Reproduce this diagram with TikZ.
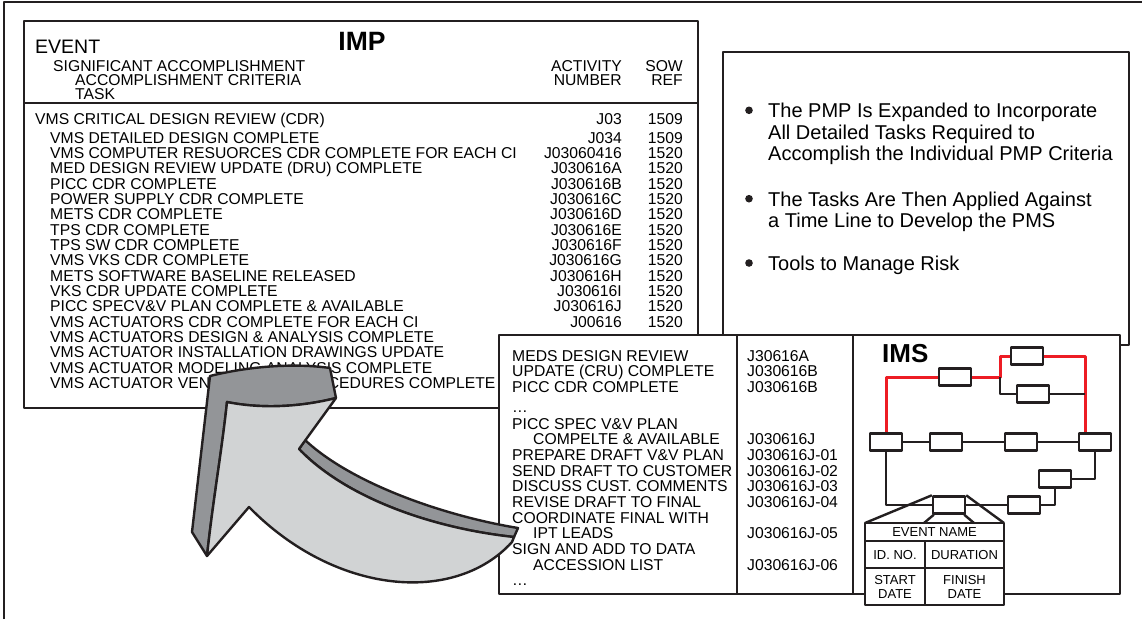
\documentclass[tikz,border=0pt]{standalone}
\usepackage{fontspec}
\setmainfont{Liberation Sans}
\definecolor{ink}{HTML}{231F20}
\definecolor{facegray}{HTML}{D1D3D4}
\definecolor{sidegray}{HTML}{939598}
\definecolor{pathred}{HTML}{ED1C24}

\begin{document}
\begin{tikzpicture}[x=1pt,y=-1pt,line join=round,
  panel/.style={draw=ink,line width=2.5pt,fill=white},
  rulel/.style={draw=ink,line width=2.5pt},
  improw/.style={inner sep=0pt,anchor=base west,font=\fontsize{15.7}{16}\selectfont},
  impnum/.style={inner sep=0pt,anchor=base east,font=\fontsize{15.7}{16}\selectfont},
  bullettext/.style={inner sep=0pt,anchor=base west,font=\fontsize{20}{21}\selectfont},
  heading/.style={inner sep=0pt,font=\bfseries\fontsize{26.5}{27}\selectfont},
  taskbox/.style={draw=ink,line width=2.4pt,fill=white,minimum width=32pt,minimum height=17pt,inner sep=0pt},
  netlink/.style={draw=ink,line width=2.4pt},
  critpath/.style={draw=pathred,line width=3pt},
  eventcell/.style={inner sep=0pt,align=center,font=\fontsize{13}{14.5}\selectfont},
  arrowside/.style={draw=ink,line width=2.4pt,fill=sidegray},
  arrowface/.style={draw=ink,line width=2.4pt,fill=facegray}]
  \useasboundingbox (0,0) rectangle (1142,619);
  \draw[rulel] (4,619) -- (4,2) -- (1142,2);

  % IMP table
  \draw[panel] (24,21) rectangle (698,408);
  \draw[rulel] (24,103) -- (698,103);
  \node[inner sep=0pt,anchor=base west,font=\fontsize{19.5}{20}\selectfont] (event) at (35,53) {EVENT};
  \node[heading,anchor=base] (imp) at (362,50) {IMP};
  \node[improw] (sig) at (53,71) {SIGNIFICANT ACCOMPLISHMENT};
  \node[improw] (acrit) at (75,85) {ACCOMPLISHMENT CRITERIA};
  \node[improw] (task) at (75,99) {TASK};
  \node[impnum] (actA) at (622,71) {ACTIVITY};
  \node[impnum] (actB) at (622,85) {NUMBER};
  \node[impnum] (sowA) at (683,71) {SOW};
  \node[impnum] (sowB) at (683,85) {REF};
  \node[improw] (r1) at (35,124) {VMS CRITICAL DESIGN REVIEW (CDR)};
  \node[impnum] (a1) at (622,124) {J03};
  \node[impnum] (s1) at (683,124) {1509};
  \foreach \t [count=\i from 2] in {VMS DETAILED DESIGN COMPLETE,
      VMS COMPUTER RESUORCES CDR COMPLETE FOR EACH CI,
      MED DESIGN REVIEW UPDATE (DRU) COMPLETE, PICC CDR COMPLETE,
      POWER SUPPLY CDR COMPLETE, METS CDR COMPLETE, TPS CDR COMPLETE,
      TPS SW CDR COMPLETE, VMS VKS CDR COMPLETE, METS SOFTWARE BASELINE RELEASED,
      VKS CDR UPDATE COMPLETE, PICC SPECV\&V PLAN COMPLETE \& AVAILABLE,
      VMS ACTUATORS CDR COMPLETE FOR EACH CI, VMS ACTUATORS DESIGN \& ANALYSIS COMPLETE,
      VMS ACTUATOR INSTALLATION DRAWINGS UPDATE, VMS ACTUATOR MODELING ANALYSIS COMPLETE,
      VMS ACTUATOR VENDOR TEST PROCEDURES COMPLETE}
    \node[improw] (r\i) at (50,{143+15.35*(\i-2)}) {\t};
  \foreach \a/\s [count=\i from 2] in {J034/1509, J03060416/1520, J030616A/1520,
      J030616B/1520, J030616C/1520, J030616D/1520, J030616E/1520, J030616F/1520,
      J030616G/1520, J030616H/1520, J030616I/1520, J030616J/1520, J00616/1520} {
    \node[impnum] (a\i) at (622,{143+15.35*(\i-2)}) {\a};
    \node[impnum] (s\i) at (683,{143+15.35*(\i-2)}) {\s};
  }

  % bullet panel
  \draw[panel] (723,52) rectangle (1129,345);
  \foreach \y in {110.3,198.7,263} \fill[ink] (749,\y) circle (3.8pt);
  \foreach \y/\t [count=\i] in {117.6/The PMP Is Expanded to Incorporate,
      139/All Detailed Tasks Required to, 160.4/Accomplish the Individual PMP Criteria,
      206/The Tasks Are Then Applied Against, 227.6/a Time Line to Develop the PMS,
      270.3/Tools to Manage Risk}
    \node[bullettext] (b\i) at (768,\y) {\t};

  % task detail
  \draw[panel] (499,335) rectangle (853,594);
  \draw[rulel] (737,335) -- (737,594);
  \foreach \y/\x/\t [count=\i] in {361/512/MEDS DESIGN REVIEW, 376.7/512/UPDATE (CRU) COMPLETE,
      392/512/PICC CDR COMPLETE, 412/512/\dots, 429/512/PICC SPEC V\&V PLAN,
      444.7/533/COMPELTE \& AVAILABLE, 460.3/512/PREPARE DRAFT V\&V PLAN,
      476/512/SEND DRAFT TO CUSTOMER, 491.7/512/DISCUSS CUST. COMMENTS,
      507.3/512/REVISE DRAFT TO FINAL, 523/512/COORDINATE FINAL WITH, 538.7/533/IPT LEADS,
      554.3/512/SIGN AND ADD TO DATA, 570/533/ACCESSION LIST, 585/512/\dots}
    \node[improw] (m\i) at (\x,\y) {\t};
  \foreach \y/\t [count=\i] in {361/J30616A, 376.7/J030616B, 392/J030616B, 444.7/J030616J,
      460.3/J030616J-01, 476/J030616J-02, 491.7/J030616J-03, 507.3/J030616J-04,
      538.7/J030616J-05, 570/J030616J-06}
    \node[improw] (n\i) at (747,\y) {\t};

  % IMS network
  \draw[panel] (853,335) rectangle (1120,594);
  \node[heading,anchor=base west,font=\bfseries\fontsize{26}{27}\selectfont] (ims) at (882,362) {IMS};
  \node[taskbox] (t1) at (1027,356) {};
  \node[taskbox] (t2) at (955,377) {};
  \node[taskbox] (t3) at (1033,394) {};
  \node[taskbox] (w1) at (886,442) {};
  \node[taskbox] (w2) at (946,442) {};
  \node[taskbox] (w3) at (1021,442) {};
  \node[taskbox] (w4) at (1095,442) {};
  \node[taskbox] (l1) at (1055,479) {};
  \node[taskbox] (l2) at (1024,505) {};
  \node[taskbox] (ev) at (949,505) {};
  \coordinate (split) at (1000,377);
  \coordinate (rx) at (1085,356);
  \draw[critpath] (w1.north) |- (t2.west);
  \draw[critpath] (t2.east) -- (split) |- (t1.west);
  \draw[critpath] (t1.east) -| ([xshift=-10pt]w4.north);
  \draw[netlink] (split) |- (t3.west);
  \draw[netlink] (t3.east) -- (t3.east -| rx);
  \draw[netlink] (w1) -- (w2) -- (w3) -- (w4);
  \draw[netlink] (w4.south) |- (l1.east);
  \draw[netlink] (l1.south) |- (l2.east);
  \draw[netlink] (l2.west) -- (ev.east);
  \draw[netlink] (w1.south) |- (ev.west);

  % event key
  \draw[netlink] (ev.north west) -- (865,523);
  \draw[netlink] (ev.north east) -- (1004,523);
  \draw[netlink] ([xshift=2pt]ev.south west) -- (924,523);
  \draw[netlink] ([xshift=-2pt]ev.south east) -- (974,523);
  \draw[panel,line width=2.4pt] (865,523) rectangle (1004,605);
  \draw[netlink] (865,541) -- (1004,541);
  \draw[netlink] (865,568) -- (1004,568);
  \draw[netlink] (925,541) -- (925,605);
  \node[eventcell] (ename) at (934.5,532) {EVENT NAME};
  \node[eventcell] (idno) at (895,555) {ID. NO.};
  \node[eventcell] (dur) at (964.5,555) {DURATION};
  \node[eventcell] (sdate) at (895,587) {START\\DATE};
  \node[eventcell] (fdate) at (964.5,587) {FINISH\\DATE};

  % curved arrow
  \draw[arrowside] (207,556) -- (192,532) -- (210,376)
    .. controls (250,366) and (295,363) .. (330,368) -- (336,398)
    .. controls (300,407) and (262,409) .. (227,402)
    .. controls (222,450) and (213,500) .. (207,556) -- cycle;
  \draw[arrowside] (305,440) .. controls (352,484) and (445,516) .. (518,528) -- (514,537)
    .. controls (430,528) and (345,497) .. (299,449) -- cycle;
  \draw[arrowface] (227,402) .. controls (262,409) and (300,407) .. (336,398) -- (299,449)
    .. controls (345,497) and (430,528) .. (514,537) -- (512,542)
    .. controls (455,605) and (335,595) .. (249,507) -- (207,556)
    .. controls (213,500) and (222,450) .. (227,402) -- cycle;
\end{tikzpicture}
\end{document}
